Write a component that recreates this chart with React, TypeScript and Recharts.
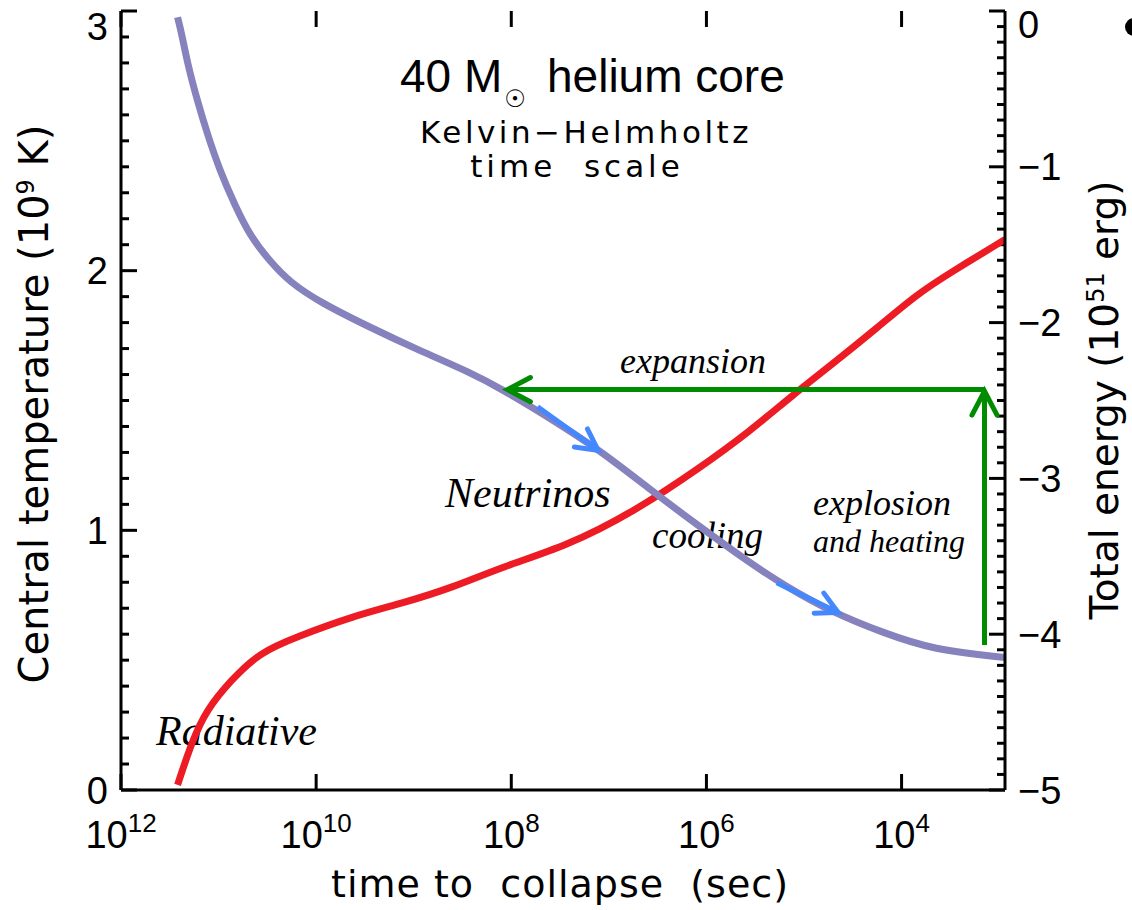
import { LineChart, Line, XAxis, YAxis, ReferenceLine } from 'recharts';

// x values are log10 of the time to collapse (sec)
const timeTicks = [12, 10, 8, 6, 4];
const tempTicks = Array.from({ length: 31 }, (_, i) => i / 10);
const energyTicks = Array.from({ length: 51 }, (_, i) => -i / 10);

// central temperature (10^9 K), red curve
const tempLogTime = [11.42, 11.27, 11.12, 10.88, 10.58, 10.2, 9.62, 9.11, 8.6, 8.09, 7.43, 6.75, 6.07, 5.56, 5.12, 4.71, 4.25, 3.84, 3.51, 2.94];
const tempValues = [0.02, 0.19, 0.31, 0.42, 0.53, 0.59, 0.67, 0.72, 0.78, 0.86, 0.94, 1.07, 1.24, 1.38, 1.52, 1.64, 1.78, 1.91, 1.99, 2.12];

// total energy (10^51 erg), purple curve
const energyLogTime = [11.42, 11.38, 11.31, 11.22, 11.12, 10.99, 10.83, 10.68, 10.47, 10.27, 9.96, 9.45, 8.94, 8.42, 8.09, 7.61, 7.09, 6.58, 6.07, 5.56, 5.22, 4.71, 4.19, 3.68, 2.94];
const energyValues = [-0.04, -0.14, -0.36, -0.57, -0.78, -1.02, -1.25, -1.44, -1.61, -1.74, -1.87, -2.03, -2.18, -2.32, -2.43, -2.61, -2.82, -3.07, -3.31, -3.54, -3.68, -3.86, -3.99, -4.1, -4.15];

// arrows: [from, to] in (log time, energy)
const expansionArrow = [{ x: 3.15, y: -2.43 }, { x: 8.04, y: -2.43 }];
const explosionArrow = [{ x: 3.15, y: -4.07 }, { x: 3.15, y: -2.44 }];
const coolingArrow1 = [{ x: 7.73, y: -2.54 }, { x: 7.11, y: -2.82 }];
const coolingArrow2 = [{ x: 5.28, y: -3.67 }, { x: 4.65, y: -3.86 }];

const tempData = tempLogTime.map((t, i) => ({ t, v: tempValues[i] }));
const energyData = energyLogTime.map((t, i) => ({ t, v: energyValues[i] }));

const SANS = 'Liberation Sans, Arial, sans-serif';
const IDL = 'DejaVu Sans, sans-serif';
const SERIF = 'Liberation Serif, Times New Roman, serif';

const RED = '#ed1c24';
const PURPLE = '#8682bd';
const BLUE = '#4488ff';
const GREEN = '#008c00';

const isMajor = (v: number) => Math.abs(v - Math.round(v)) < 1e-6;
const ok = (...v: any[]) => v.every((n) => typeof n === 'number' && isFinite(n));

function LeftTick({ x, y, payload }: any) {
  const v = payload.value;
  if (!isMajor(v)) return <g />;
  return (
    <text x={x - 13} y={Math.max(y, 26)} dy="0.36em" textAnchor="end" fontSize={38} fontFamily={SANS} fill="#000">
      {Math.round(v)}
    </text>
  );
}

function RightTick({ x, y, payload }: any) {
  const v = payload.value;
  if (!isMajor(v)) return <g />;
  const n = Math.round(v);
  return (
    <text x={x + 13} y={Math.max(y, 24)} dy="0.36em" textAnchor="start" fontSize={38} fontFamily={SANS} fill="#000">
      {n === 0 ? '0' : `\u2212${-n}`}
    </text>
  );
}

function BottomTick({ x, y, payload }: any) {
  return (
    <text x={x} y={y + 58} textAnchor="middle" fontSize={38} fontFamily={SANS} fill="#000">
      10<tspan dy={-16} fontSize={26}>{payload.value}</tspan>
    </text>
  );
}

// inward frame ticks, drawn from reference lines
function yTickMark(len: number, side: 'left' | 'right') {
  return (p: any) => {
    const { x1, x2, y1 } = p;
    if (!ok(x1, x2, y1)) return <g />;
    const x0 = side === 'left' ? Math.min(x1, x2) : Math.max(x1, x2);
    const xe = side === 'left' ? x0 + len : x0 - len;
    return <line x1={x0} x2={xe} y1={y1} y2={y1} stroke="#000" strokeWidth={3} />;
  };
}

function xTickMark(len: number) {
  return (p: any) => {
    const { x1, y1, y2 } = p;
    if (!ok(x1, y1, y2)) return <g />;
    const top = Math.min(y1, y2);
    const bot = Math.max(y1, y2);
    return (
      <g>
        <line x1={x1} x2={x1} y1={top} y2={top + len} stroke="#000" strokeWidth={3} />
        <line x1={x1} x2={x1} y1={bot} y2={bot - len} stroke="#000" strokeWidth={3} />
      </g>
    );
  };
}

function arrow(color: string, width: number, head: number) {
  return (p: any) => {
    const { x1, y1, x2, y2 } = p;
    if (!ok(x1, y1, x2, y2)) return <g />;
    const a = Math.atan2(y2 - y1, x2 - x1);
    const s = Math.PI / 6.5;
    const ax = x2 - head * Math.cos(a - s);
    const ay = y2 - head * Math.sin(a - s);
    const bx = x2 - head * Math.cos(a + s);
    const by = y2 - head * Math.sin(a + s);
    return (
      <g>
        <line x1={x1} y1={y1} x2={x2} y2={y2} stroke={color} strokeWidth={width} />
        <polyline
          points={`${ax},${ay} ${x2},${y2} ${bx},${by}`}
          fill="none"
          stroke={color}
          strokeWidth={width}
          strokeLinecap="round"
        />
      </g>
    );
  };
}

export default function App() {
  return (
    <div style={{ position: 'absolute', left: 0, top: 0, width: 1132, height: 910, background: '#fff' }}>
      <LineChart width={1132} height={910} margin={{ top: 11, right: 0, bottom: 0, left: 0 }}>
        <XAxis
          xAxisId="bottom"
          dataKey="t"
          type="number"
          domain={[2.94, 12]}
          reversed
          allowDataOverflow
          ticks={timeTicks}
          interval={0}
          height={120}
          tickSize={0}
          tickMargin={0}
          tickLine={false}
          axisLine={{ stroke: '#000', strokeWidth: 3 }}
          tick={<BottomTick />}
        />
        <XAxis
          xAxisId="top"
          orientation="top"
          dataKey="t"
          type="number"
          domain={[2.94, 12]}
          reversed
          allowDataOverflow
          ticks={timeTicks}
          interval={0}
          height={0}
          tickSize={0}
          tickMargin={0}
          tickLine={false}
          tick={false}
          axisLine={{ stroke: '#000', strokeWidth: 3 }}
        />
        <YAxis
          yAxisId="T"
          type="number"
          domain={[0, 3]}
          allowDataOverflow
          ticks={tempTicks}
          interval={0}
          width={121}
          tickSize={0}
          tickMargin={0}
          tickLine={false}
          axisLine={{ stroke: '#000', strokeWidth: 3 }}
          tick={<LeftTick />}
        />
        <YAxis
          yAxisId="E"
          orientation="right"
          type="number"
          domain={[-5, 0]}
          allowDataOverflow
          ticks={energyTicks}
          interval={0}
          width={127}
          tickSize={0}
          tickMargin={0}
          tickLine={false}
          axisLine={{ stroke: '#000', strokeWidth: 3 }}
          tick={<RightTick />}
        />

        {tempTicks.map((v) => (
          <ReferenceLine
            key={`tt${v}`}
            xAxisId="bottom"
            yAxisId="T"
            y={v}
            ifOverflow="visible"
            shape={yTickMark(isMajor(v) ? 16 : 8, 'left')}
          />
        ))}
        {energyTicks.map((v) => (
          <ReferenceLine
            key={`et${v}`}
            xAxisId="bottom"
            yAxisId="E"
            y={v}
            ifOverflow="visible"
            shape={yTickMark(isMajor(v) ? 16 : 8, 'right')}
          />
        ))}
        {timeTicks.map((v) => (
          <ReferenceLine key={`xt${v}`} xAxisId="bottom" yAxisId="T" x={v} ifOverflow="visible" shape={xTickMark(16)} />
        ))}

        <Line
          xAxisId="bottom"
          yAxisId="T"
          data={tempData}
          dataKey="v"
          type="basis"
          stroke={RED}
          strokeWidth={7}
          dot={false}
          activeDot={false}
          isAnimationActive={false}
        />
        <Line
          xAxisId="bottom"
          yAxisId="E"
          data={energyData}
          dataKey="v"
          type="basis"
          stroke={PURPLE}
          strokeWidth={7}
          dot={false}
          activeDot={false}
          isAnimationActive={false}
        />

        <ReferenceLine xAxisId="bottom" yAxisId="E" segment={expansionArrow} ifOverflow="visible" shape={arrow(GREEN, 5, 26)} />
        <ReferenceLine xAxisId="bottom" yAxisId="E" segment={explosionArrow} ifOverflow="visible" shape={arrow(GREEN, 5, 27)} />
        <ReferenceLine xAxisId="bottom" yAxisId="E" segment={coolingArrow1} ifOverflow="visible" shape={arrow(BLUE, 5, 24)} />
        <ReferenceLine xAxisId="bottom" yAxisId="E" segment={coolingArrow2} ifOverflow="visible" shape={arrow(BLUE, 5, 24)} />

        <g>
          <text x={400} y={92} fontSize={46} fontFamily={SANS} fill="#000">40 M</text>
          <text x={515} y={107} fontSize={24} textAnchor="middle" fontFamily={IDL} fill="#000">{'\u2609'}</text>
          <text x={547} y={92} fontSize={46} fontFamily={SANS} fill="#000">helium core</text>
          <text x={586} y={143} fontSize={31} textAnchor="middle" fontFamily={IDL} letterSpacing={3.5} fill="#000">
            {'Kelvin\u2212Helmholtz'}
          </text>
          <text x={577} y={177} fontSize={31} textAnchor="middle" fontFamily={IDL} letterSpacing={4} fill="#000" style={{ whiteSpace: 'pre' }}>
            time  scale
          </text>

          <text x={560} y={897} textAnchor="middle" fontSize={38} fontFamily={IDL} letterSpacing={1} fill="#000" style={{ whiteSpace: 'pre' }}>
            time to  collapse  (sec)
          </text>
          <text transform="translate(48,404) rotate(-90)" textAnchor="middle" fontSize={40} fontFamily={IDL} fill="#000">
            Central temperature (10<tspan dy={-14} fontSize={24}>9</tspan>
            <tspan dy={14}> K)</tspan>
          </text>
          <text transform="translate(1118,400) rotate(-90)" textAnchor="middle" fontSize={39} fontFamily={IDL} fill="#000">
            Total energy (10<tspan dy={-14} fontSize={24}>51</tspan>
            <tspan dy={14}> erg)</tspan>
          </text>

          <text x={156} y={745} fontSize={42} fontStyle="italic" fontFamily={SERIF} fill="#000">Radiative</text>
          <text x={445} y={507} fontSize={42} fontStyle="italic" fontFamily={SERIF} fill="#000">Neutrinos</text>
          <text x={620} y={373} fontSize={36} fontStyle="italic" fontFamily={SERIF} fill="#000">expansion</text>
          <text x={652} y={548} fontSize={37} fontStyle="italic" fontFamily={SERIF} fill="#000">cooling</text>
          <text x={813} y={515} fontSize={36} fontStyle="italic" fontFamily={SERIF} fill="#000">explosion</text>
          <text x={813} y={552} fontSize={32} fontStyle="italic" fontFamily={SERIF} fill="#000">and heating</text>

          <circle cx={1134} cy={27} r={9} fill="#000" />
        </g>
      </LineChart>
    </div>
  );
}
